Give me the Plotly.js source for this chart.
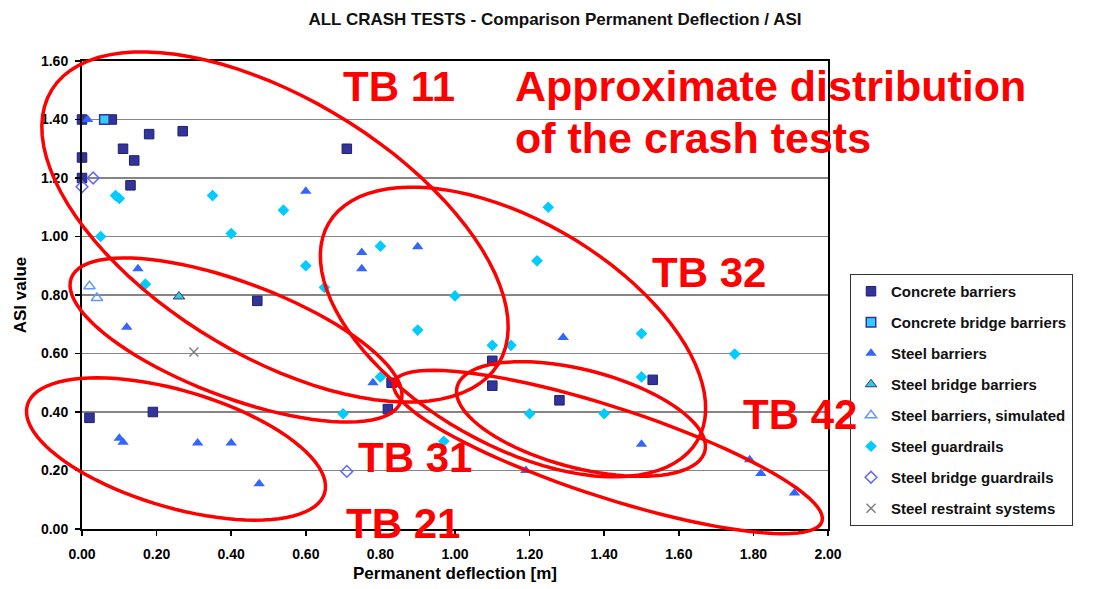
<!DOCTYPE html>
<html>
<head>
<meta charset="utf-8">
<script src="https://cdn.plot.ly/plotly-3.0.1.min.js"></script>
<style>
  html, body { margin: 0; padding: 0; background: #ffffff; }
  #chart { width: 1103px; height: 589px; }
</style>
</head>
<body>
<div id="chart"></div>
<script>
// ---------------- DATA ----------------
const seriesNames = [
  "Concrete barriers",
  "Concrete bridge barriers",
  "Steel barriers",
  "Steel bridge barriers",
  "Steel barriers, simulated",
  "Steel guardrails",
  "Steel bridge guardrails",
  "Steel restraint systems"
];

const concreteBarriersX = [0.00, 0.08, 0.18, 0.27, 0.11, 0.14, 0.00, 0.00, 0.13, 0.71, 0.47, 1.10, 1.10, 0.83, 0.02, 0.19, 0.82, 1.28, 1.53];
const concreteBarriersY = [1.40, 1.40, 1.35, 1.36, 1.30, 1.26, 1.27, 1.20, 1.175, 1.30, 0.78, 0.575, 0.49, 0.50, 0.38, 0.40, 0.41, 0.44, 0.51];

const concreteBridgeX = [0.06];
const concreteBridgeY = [1.40];

const steelBarriersX = [0.015, 0.60, 0.15, 0.12, 0.75, 0.75, 0.90, 0.78, 0.10, 0.11, 0.31, 0.40, 0.475, 1.29, 1.50, 1.19, 1.79, 1.82, 1.91];
const steelBarriersY = [1.40, 1.155, 0.89, 0.69, 0.945, 0.89, 0.965, 0.50, 0.31, 0.297, 0.294, 0.294, 0.155, 0.655, 0.29, 0.20, 0.237, 0.19, 0.123];

const steelBridgeBarriersX = [0.26];
const steelBridgeBarriersY = [0.795];

const steelSimulatedX = [0.02, 0.04];
const steelSimulatedY = [0.83, 0.79];

const steelGuardrailsX = [0.09, 0.10, 0.35, 0.54, 0.05, 0.40, 0.60, 0.17, 0.80, 0.65, 1.22, 1.00, 0.90, 1.10, 1.15, 0.80, 1.25, 1.50, 0.70, 1.75, 1.50, 1.20, 1.40, 0.97];
const steelGuardrailsY = [1.14, 1.13, 1.14, 1.09, 1.00, 1.01, 0.90, 0.837, 0.967, 0.826, 0.917, 0.797, 0.68, 0.628, 0.628, 0.52, 1.10, 0.668, 0.394, 0.598, 0.52, 0.394, 0.394, 0.30];

const steelBridgeGuardrailsX = [0.03, 0.00, 0.71];
const steelBridgeGuardrailsY = [1.20, 1.17, 0.197];

const steelRestraintX = [0.30];
const steelRestraintY = [0.605];

const xTickValues = [0.0, 0.2, 0.4, 0.6, 0.8, 1.0, 1.2, 1.4, 1.6, 1.8, 2.0];
const yTickValues = [0.0, 0.2, 0.4, 0.6, 0.8, 1.0, 1.2, 1.4, 1.6];

// overlay labels (hand-drawn annotations in the reference)
const overlayLabels = ["TB 11", "Approximate distribution", "of the crash tests", "TB 32", "TB 42", "TB 31", "TB 21"];

// ---------------- LAYOUT GEOMETRY ----------------
const M = { l: 82, r: 275, t: 61, b: 60 };
const W = 1103 - M.l - M.r;   // plot width in px
const H = 589 - M.t - M.b;    // plot height in px
function px2paperX(px) { return (px - M.l) / W; }
function px2paperY(py) { return (M.t + H - py) / H; }

// hand-drawn ellipses, given in screen pixels: centre, semi-axes, tilt (deg, clockwise)
const ellipses = [
  { cx: 275, cy: 227, a: 262, b: 128, deg: 31.5 },   // TB 11
  { cx: 236, cy: 340, a: 176, b: 57.5, deg: 20.6 },  // TB 31
  { cx: 176, cy: 449, a: 155, b: 58.3, deg: 16.5 },  // TB 21
  { cx: 513, cy: 332, a: 214, b: 111, deg: 30.6 },   // TB 32
  { cx: 581, cy: 419, a: 128, b: 49, deg: 14.6 },    // small one
  { cx: 608, cy: 452, a: 225, b: 45, deg: 18 }       // TB 42
];

function ellipsePath(e) {
  const n = 90, t = e.deg * Math.PI / 180;
  let d = "";
  for (let i = 0; i <= n; i++) {
    const p = 2 * Math.PI * i / n;
    const ux = e.a * Math.cos(p), vy = e.b * Math.sin(p);
    const sx = e.cx + ux * Math.cos(t) - vy * Math.sin(t);
    const sy = e.cy + ux * Math.sin(t) + vy * Math.cos(t);
    d += (i === 0 ? "M" : "L") + px2paperX(sx).toFixed(5) + "," + px2paperY(sy).toFixed(5);
  }
  return d + "Z";
}

const shapes = ellipses.map(e => ({
  type: "path", xref: "paper", yref: "paper", layer: "above",
  path: ellipsePath(e),
  line: { color: "#FF0000", width: 3.5 }
}));

// ---------------- TRACES ----------------
function tr(i, x, y, marker) {
  return { type: "scatter", mode: "markers", name: seriesNames[i], x: x, y: y,
           legendgroup: "g" + i, marker: marker, cliponaxis: false };
}
const traces = [
  tr(0, concreteBarriersX, concreteBarriersY, { symbol: "square", size: 9.5, color: "#333399", line: { color: "#1f1f70", width: 1 } }),
  tr(1, concreteBridgeX, concreteBridgeY, { symbol: "square", size: 9.5, color: "#33CCFF", line: { color: "#333399", width: 1.5 } }),
  tr(2, steelBarriersX, steelBarriersY, { symbol: "triangle-up", size: 10, color: "#3366FF", line: { width: 0 } }),
  tr(3, steelBridgeBarriersX, steelBridgeBarriersY, { symbol: "triangle-up", size: 10, color: "#33CCCC", line: { color: "#333399", width: 1 } }),
  tr(4, steelSimulatedX, steelSimulatedY, { symbol: "triangle-up-open", size: 10, color: "#6699FF", line: { width: 1.5 } }),
  tr(5, steelGuardrailsX, steelGuardrailsY, { symbol: "diamond", size: 9, color: "#00CCFF", line: { width: 0 } }),
  tr(6, steelBridgeGuardrailsX, steelBridgeGuardrailsY, { symbol: "diamond-open", size: 9, color: "#6666FF", line: { width: 1.5 } }),
  tr(7, steelRestraintX, steelRestraintY, { symbol: "x-thin-open", size: 9, color: "#808080", line: { width: 1.5 } })
];

// ---------------- ANNOTATIONS ----------------
function redFont(sz) {
  return { family: "Liberation Sans, Arial, sans-serif", size: sz, color: "#FF0000", weight: "bold" };
}
function redText(txt, px, py, anchor, sz) {
  return { text: txt, xref: "paper", yref: "paper", x: px2paperX(px), y: px2paperY(py),
           xanchor: anchor || "center", yanchor: "middle", showarrow: false, font: redFont(sz || 42) };
}
const annotations = [
  redText(overlayLabels[0], 399, 86),
  redText(overlayLabels[1], 513, 86, "left", 43),
  redText(overlayLabels[2], 513, 138, "left", 43),
  redText(overlayLabels[3], 709, 272),
  redText(overlayLabels[4], 800, 414),
  redText(overlayLabels[5], 415, 457),
  redText(overlayLabels[6], 403, 523)
];

const tickFont = { family: "Liberation Sans, Arial, sans-serif", size: 14, color: "#000000", weight: "bold" };
const titleFont = { family: "Liberation Sans, Arial, sans-serif", size: 17, color: "#000000", weight: "bold" };

const layout = {
  width: 1103, height: 589,
  margin: M,
  paper_bgcolor: "#ffffff", plot_bgcolor: "#ffffff",
  title: { text: "ALL CRASH TESTS - Comparison Permanent Deflection / ASI",
           font: { family: "Liberation Sans, Arial, sans-serif", size: 17, color: "#111111", weight: "bold" },
           x: 555 / 1103, xanchor: "center", xref: "container",
           y: 1 - 19 / 589, yanchor: "middle", yref: "container" },
  xaxis: {
    range: [0, 2], tickvals: xTickValues, tickformat: ".2f",
    showgrid: false, zeroline: false,
    showline: true, linecolor: "#000000", linewidth: 2, mirror: true,
    ticks: "outside", ticklen: 5, tickwidth: 1.5, tickcolor: "#000000",
    ticklabelstandoff: 6,
    tickfont: tickFont,
    title: { text: "Permanent deflection [m]", font: titleFont, standoff: 6 },
    automargin: false
  },
  yaxis: {
    range: [0, 1.6], tickvals: yTickValues, tickformat: ".2f",
    showgrid: true, gridcolor: "#858585", gridwidth: 1.5, zeroline: false,
    showline: true, linecolor: "#000000", linewidth: 2, mirror: true,
    ticks: "outside", ticklen: 5, tickwidth: 1.5, tickcolor: "#000000",
    ticklabelstandoff: 4,
    tickfont: tickFont,
    title: { text: "ASI value", font: titleFont, standoff: 10 },
    automargin: false
  },
  legend: {
    x: px2paperX(850), y: px2paperY(274), xanchor: "left", yanchor: "top",
    bgcolor: "#ffffff", bordercolor: "#333333", borderwidth: 1,
    font: { family: "Liberation Sans, Arial, sans-serif", size: 15, color: "#111111", weight: "bold" },
    tracegroupgap: 8.5, itemsizing: "trace"
  },
  showlegend: true,
  shapes: shapes,
  annotations: annotations
};

Plotly.newPlot("chart", traces, layout, { displayModeBar: false, staticPlot: true });
</script>
</body>
</html>
